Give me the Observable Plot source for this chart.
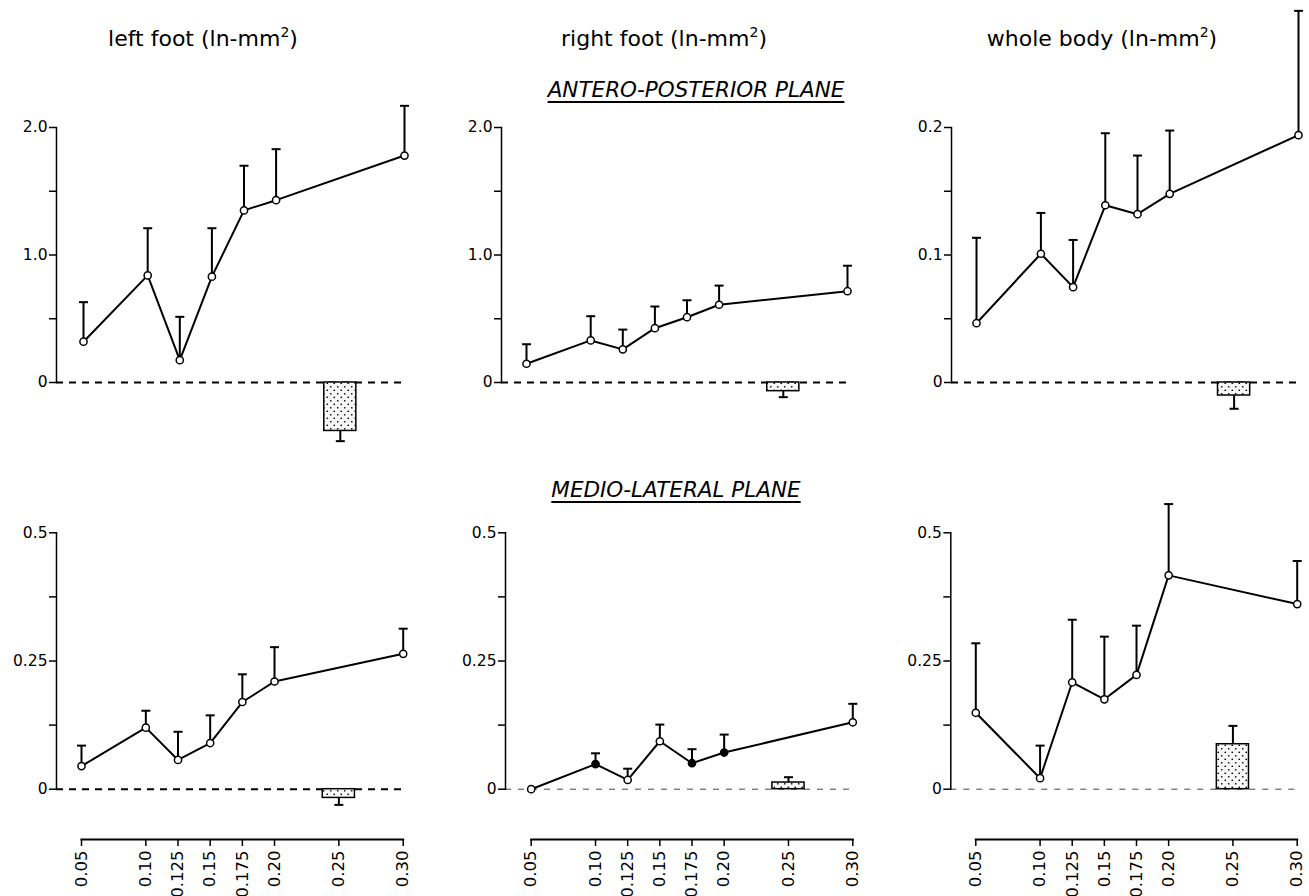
<!DOCTYPE html>
<html>
<head>
<meta charset="utf-8">
<script src="https://cdn.jsdelivr.net/npm/d3@7"></script>
<script src="https://cdn.jsdelivr.net/npm/@observablehq/plot@0.6"></script>
<style>
html, body { margin: 0; padding: 0; background: #fff; overflow: hidden; }
#page { position: relative; width: 1309px; height: 896px; font-family: "DejaVu Sans", sans-serif; color: #000; }
#page svg.ypanel text { font-family: "DejaVu Sans", sans-serif !important; font-size: 15.5px !important; }
#page svg.xpanel text { font-family: "DejaVu Sans", sans-serif !important; font-size: 16.5px !important; }
.coltitle { font-size: 22px; line-height: 1; white-space: nowrap; transform: translateX(-50%); }
.coltitle sup { font-size: 14px; vertical-align: 0; position: relative; top: -9px; }
.rowtitle { font-size: 21.5px; font-style: italic; text-decoration: underline; text-decoration-thickness: 1.5px; text-underline-offset: 4px; line-height: 1; white-space: nowrap; transform: translateX(-50%); }
</style>
</head>
<body>
<div id="page">
  <svg width="0" height="0" style="position:absolute">
    <defs>
      <pattern id="dots" width="7" height="7" patternUnits="userSpaceOnUse">
        <rect width="7" height="7" fill="#f7f7f7"></rect>
        <circle cx="1.75" cy="1.75" r="0.85" fill="#000"></circle>
        <circle cx="5.25" cy="5.25" r="0.85" fill="#000"></circle>
      </pattern>
    </defs>
  </svg>
</div>
<script>
// ---------------- DATA ----------------
const doses = [0.05, 0.10, 0.125, 0.15, 0.175, 0.20, 0.30];
const barDose = 0.25;
const xTickValues = [0.05, 0.10, 0.125, 0.15, 0.175, 0.20, 0.25, 0.30];
const xTickLabels = ["0.05", "0.10", "0.125", "0.15", "0.175", "0.20", "0.25", "0.30"];

const columnTitles = ["left foot", "right foot", "whole body"];
const unitLabel = "(ln-mm";
const unitExponent = "2";
const planeTitles = ["ANTERO-POSTERIOR PLANE", "MEDIO-LATERAL PLANE"];

// Antero-posterior plane
const leftApMean = [0.32, 0.84, 0.175, 0.83, 1.35, 1.43, 1.78];
const leftApErr  = [0.31, 0.37, 0.34, 0.38, 0.35, 0.40, 0.39];
const leftApBar = -0.38, leftApBarErr = 0.08;

const rightApMean = [0.147, 0.33, 0.26, 0.426, 0.512, 0.61, 0.716];
const rightApErr  = [0.153, 0.19, 0.155, 0.17, 0.133, 0.15, 0.20];
const rightApBar = -0.068, rightApBarErr = 0.047;

const bodyApMean = [0.0465, 0.101, 0.0748, 0.139, 0.132, 0.148, 0.194];
const bodyApErr  = [0.067, 0.032, 0.037, 0.0565, 0.046, 0.0496, 0.0975];
const bodyApBar = -0.0102, bodyApBarErr = 0.0104;

// Medio-lateral plane
const leftMlMean = [0.045, 0.12, 0.057, 0.09, 0.17, 0.21, 0.264];
const leftMlErr  = [0.04, 0.033, 0.055, 0.054, 0.054, 0.067, 0.049];
const leftMlBar = -0.017, leftMlBarErr = 0.0136;

const rightMlMean  = [0.0, 0.049, 0.018, 0.0935, 0.0507, 0.0715, 0.1305];
const rightMlErr   = [0.0, 0.021, 0.022, 0.0325, 0.0273, 0.035, 0.036];
const rightMlSolid = [0, 1, 0, 0, 1, 1, 0];
const rightMlBar = 0.013, rightMlBarErr = 0.0104;

const bodyMlMean = [0.149, 0.0215, 0.2085, 0.1753, 0.2229, 0.417, 0.361];
const bodyMlErr  = [0.1355, 0.0635, 0.122, 0.1222, 0.096, 0.139, 0.084];
const bodyMlBar = 0.0877, bodyMlBarErr = 0.0358;

// y ticks
const apFootTicks = [0, 0.5, 1.0, 1.5, 2.0];
const apFootTickLabels = ["0", "", "1.0", "", "2.0"];
const apBodyTicks = [0, 0.05, 0.1, 0.15, 0.2];
const apBodyTickLabels = ["0", "", "0.1", "", "0.2"];
const mlTicks = [0, 0.125, 0.25, 0.375, 0.5];
const mlTickLabels = ["0", "", "0.25", "", "0.5"];

// ---------------- DRAWING ----------------
const page = document.getElementById("page");
const FONT = "DejaVu Sans, sans-serif";
const barHalf = 0.0125;
const capSymbol = {
  draw(ctx, size) {
    const w = Math.sqrt(size / Math.PI);
    ctx.moveTo(-w, 0);
    ctx.lineTo(w, 0);
  }
};

function place(el, left, top) {
  el.style.position = "absolute";
  el.style.left = left + "px";
  el.style.top = top + "px";
  page.appendChild(el);
}

const baseStyle = { fontFamily: FONT, fontSize: "15px", color: "#000", background: "transparent", overflow: "visible" };

function dataPanel(cfg) {
  const pts = doses.map((x, i) => ({ x, y: cfg.mean[i], e: cfg.err[i], solid: cfg.solid ? cfg.solid[i] : 0 }));
  const bar = [{ x: barDose, y: cfg.bar, e: cfg.barErr }];
  const errs = pts.filter(d => d.e > 0).map(d => ({ x: d.x, y1: d.y, y2: d.y + d.e }))
    .concat(bar.map(d => ({ x: d.x, y1: d.y, y2: d.y + Math.sign(d.y) * d.e })));
  const tickMap = new Map(cfg.ticks.map((t, i) => [t, cfg.tickLabels[i]]));
  const svg = Plot.plot({
    width: cfg.width, height: cfg.height,
    marginLeft: cfg.ml, marginRight: cfg.mr, marginTop: cfg.mt, marginBottom: cfg.mb,
    x: { type: "linear", domain: [doses[0], doses[doses.length - 1]], insetLeft: cfg.inset, insetRight: 0, axis: null },
    y: { domain: [cfg.ticks[0], cfg.ticks[cfg.ticks.length - 1]], label: null },
    style: baseStyle,
    marks: [
      Plot.ruleY([0], { stroke: cfg.zeroThin ? "#444" : "#000", strokeWidth: cfg.zeroThin ? 1 : 2, strokeDasharray: cfg.zeroThin ? "6,7" : "7,6" }),
      Plot.rect(bar, { x1: d => d.x - barHalf, x2: d => d.x + barHalf, y1: 0, y2: "y", fill: "url(#dots)", stroke: "#000", strokeWidth: 1.5 }),
      Plot.ruleX(errs, { x: "x", y1: "y1", y2: "y2", stroke: "#000", strokeWidth: 2 }),
      Plot.dot(errs, { x: "x", y: "y2", symbol: capSymbol, r: 4.5, stroke: "#000", fill: "none", strokeWidth: 2 }),
      Plot.line(pts, { x: "x", y: "y", stroke: "#000", strokeWidth: 2 }),
      Plot.dot(pts.filter(d => !d.solid), { x: "x", y: "y", r: 3.6, fill: "#fff", stroke: "#000", strokeWidth: 1.5 }),
      Plot.dot(pts.filter(d => d.solid), { x: "x", y: "y", r: 3.6, fill: "#000", stroke: "#000", strokeWidth: 1.5 }),
      Plot.frame({ anchor: "left", stroke: "#000", strokeWidth: 1.5 }),
      Plot.axisY({ ticks: cfg.ticks, tickFormat: d => tickMap.get(d), tickSize: 7, tickPadding: 2, strokeWidth: 1.5, label: null, fontSize: 15.5 })
    ]
  });
  svg.classList.add("ypanel");
  place(svg, cfg.left, cfg.top);
}

function xAxisPanel(cfg) {
  const xMap = new Map(xTickValues.map((t, i) => [t, xTickLabels[i]]));
  const svg = Plot.plot({
    width: cfg.width, height: 62,
    marginLeft: cfg.ml, marginRight: cfg.mr, marginTop: 3, marginBottom: 58,
    x: { type: "linear", domain: [doses[0], doses[doses.length - 1]], label: null },
    style: baseStyle,
    marks: [
      Plot.frame({ anchor: "bottom", stroke: "#000", strokeWidth: 2 }),
      Plot.axisX({ ticks: xTickValues, tickFormat: d => xMap.get(d), tickRotate: -90, tickSize: 7, tickPadding: 4, strokeWidth: 1.5, label: null, fontSize: 16.5 })
    ]
  });
  svg.classList.add("xpanel");
  place(svg, cfg.left, 835);
}

// Top row (antero-posterior)
dataPanel({ left: 0,   top: 0, width: 440, height: 460, ml: 56, mr: 36, mt: 127, mb: 78, inset: 27,
  mean: leftApMean, err: leftApErr, bar: leftApBar, barErr: leftApBarErr, ticks: apFootTicks, tickLabels: apFootTickLabels });
dataPanel({ left: 440, top: 0, width: 430, height: 460, ml: 61, mr: 23, mt: 127, mb: 78, inset: 25,
  mean: rightApMean, err: rightApErr, bar: rightApBar, barErr: rightApBarErr, ticks: apFootTicks, tickLabels: apFootTickLabels });
dataPanel({ left: 870, top: 0, width: 439, height: 460, ml: 81, mr: 11, mt: 127, mb: 78, inset: 25,
  mean: bodyApMean, err: bodyApErr, bar: bodyApBar, barErr: bodyApBarErr, ticks: apBodyTicks, tickLabels: apBodyTickLabels });

// Bottom row (medio-lateral)
dataPanel({ left: 0,   top: 460, width: 440, height: 380, ml: 56, mr: 37.3, mt: 72.3, mb: 51.3, inset: 25,
  mean: leftMlMean, err: leftMlErr, bar: leftMlBar, barErr: leftMlBarErr, ticks: mlTicks, tickLabels: mlTickLabels });
dataPanel({ left: 440, top: 460, width: 430, height: 380, ml: 65, mr: 17.7, mt: 72.3, mb: 51.3, inset: 25.7, zeroThin: true,
  mean: rightMlMean, err: rightMlErr, solid: rightMlSolid, bar: rightMlBar, barErr: rightMlBarErr, ticks: mlTicks, tickLabels: mlTickLabels });
dataPanel({ left: 870, top: 460, width: 439, height: 380, ml: 80.3, mr: 12.3, mt: 72.3, mb: 51.3, inset: 25, zeroThin: true,
  mean: bodyMlMean, err: bodyMlErr, bar: bodyMlBar, barErr: bodyMlBarErr, ticks: mlTicks, tickLabels: mlTickLabels });

// Bottom x axes
xAxisPanel({ left: 0,   width: 440, ml: 81,    mr: 37.3 });
xAxisPanel({ left: 440, width: 430, ml: 90.7,  mr: 17.7 });
xAxisPanel({ left: 870, width: 439, ml: 105.3, mr: 12.3 });

// Titles
const colCenters = [203, 664, 1102];
columnTitles.forEach((t, i) => {
  const d = document.createElement("div");
  d.className = "coltitle";
  d.textContent = t + " " + unitLabel;
  const s = document.createElement("sup");
  s.textContent = unitExponent;
  d.appendChild(s);
  d.appendChild(document.createTextNode(")"));
  place(d, colCenters[i], 27.5);
});
const rowPos = [[696, 78.5], [676, 479]];
planeTitles.forEach((t, i) => {
  const d = document.createElement("div");
  d.className = "rowtitle";
  d.textContent = t;
  place(d, rowPos[i][0], rowPos[i][1]);
});
</script>
</body>
</html>
